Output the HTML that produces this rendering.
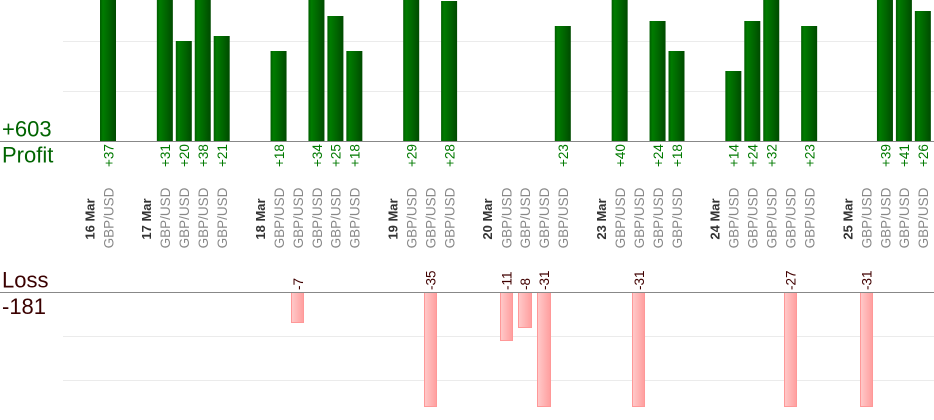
<!DOCTYPE html>
<html>
<head>
<meta charset="utf-8">
<style>
  html,body{margin:0;padding:0;background:#fff;}
  svg{display:block;}
  text{font-family:"Liberation Sans",Arial,sans-serif;}
</style>
</head>
<body>
<svg width="934" height="420" viewBox="0 0 934 420" xmlns="http://www.w3.org/2000/svg">
  <defs>
    <linearGradient id="g" x1="0" y1="0" x2="1" y2="0">
      <stop offset="0" stop-color="#005c00"/>
      <stop offset="0.18" stop-color="#007c00"/>
      <stop offset="0.6" stop-color="#006400"/>
      <stop offset="1" stop-color="#004a00"/>
    </linearGradient>
    <linearGradient id="r" x1="0" y1="0" x2="1" y2="0">
      <stop offset="0" stop-color="#ffcaca"/>
      <stop offset="1" stop-color="#ff9e9e"/>
    </linearGradient>
  </defs>

  <!-- grid lines -->
  <g stroke="#ebebeb" stroke-width="1">
    <line x1="63" y1="41.5" x2="934" y2="41.5"/>
    <line x1="63" y1="91.5" x2="934" y2="91.5"/>
    <line x1="63" y1="336.5" x2="934" y2="336.5"/>
    <line x1="63" y1="380.5" x2="934" y2="380.5"/>
  </g>

  <!-- profit bars (c-8.5, width 16) -->
  <g fill="url(#g)">
    <rect x="100" y="0" width="16" height="141"/>
    <rect x="156.85" y="0" width="16" height="141"/>
    <rect x="175.8" y="41" width="16" height="100"/>
    <rect x="194.75" y="0" width="16" height="141"/>
    <rect x="213.7" y="36" width="16" height="105"/>
    <rect x="270.55" y="51" width="16" height="90"/>
    <rect x="308.45" y="0" width="16" height="141"/>
    <rect x="327.4" y="16" width="16" height="125"/>
    <rect x="346.35" y="51" width="16" height="90"/>
    <rect x="403.2" y="0" width="16" height="141"/>
    <rect x="441.1" y="1" width="16" height="140"/>
    <rect x="554.8" y="26" width="16" height="115"/>
    <rect x="611.65" y="0" width="16" height="141"/>
    <rect x="649.55" y="21" width="16" height="120"/>
    <rect x="668.5" y="51" width="16" height="90"/>
    <rect x="725.35" y="71" width="16" height="70"/>
    <rect x="744.3" y="21" width="16" height="120"/>
    <rect x="763.25" y="0" width="16" height="141"/>
    <rect x="801.15" y="26" width="16" height="115"/>
    <rect x="876.95" y="0" width="16" height="141"/>
    <rect x="895.9" y="0" width="16" height="141"/>
    <rect x="914.85" y="11" width="16" height="130"/>
  </g>

  <!-- loss bars (c-6.5, width 13) -->
  <g fill="url(#r)" stroke="#ff9898" stroke-width="1">
    <rect x="291.5" y="292.5" width="12" height="30"/>
    <rect x="424.5" y="292.5" width="12" height="114"/>
    <rect x="500.5" y="292.5" width="12" height="48"/>
    <rect x="518.5" y="292.5" width="13" height="35"/>
    <rect x="537.5" y="292.5" width="13" height="114"/>
    <rect x="632.5" y="292.5" width="12" height="114"/>
    <rect x="784.5" y="292.5" width="12" height="114"/>
    <rect x="860.5" y="292.5" width="12" height="114"/>
  </g>

  <!-- baselines -->
  <line x1="0" y1="141.5" x2="934" y2="141.5" stroke="#888" stroke-width="1"/>
  <line x1="0" y1="292.5" x2="934" y2="292.5" stroke="#888" stroke-width="1"/>

  <!-- left labels -->
  <text x="2" y="136.5" font-size="22" fill="#006400">+603</text>
  <text x="2" y="162.3" font-size="22" fill="#006400">Profit</text>
  <text x="2" y="287.5" font-size="22" fill="#3a0000">Loss</text>
  <text x="2" y="314" font-size="22" fill="#3a0000">-181</text>

  <!-- profit value labels -->
  <g font-size="13.5" fill="#007a00" text-anchor="start">
    <text transform="translate(113.3,167) rotate(-90)">+37</text>
    <text transform="translate(170.15,167) rotate(-90)">+31</text>
    <text transform="translate(189.1,167) rotate(-90)">+20</text>
    <text transform="translate(208.05,167) rotate(-90)">+38</text>
    <text transform="translate(227,167) rotate(-90)">+21</text>
    <text transform="translate(283.85,167) rotate(-90)">+18</text>
    <text transform="translate(321.75,167) rotate(-90)">+34</text>
    <text transform="translate(340.7,167) rotate(-90)">+25</text>
    <text transform="translate(359.65,167) rotate(-90)">+18</text>
    <text transform="translate(416.5,167) rotate(-90)">+29</text>
    <text transform="translate(454.4,167) rotate(-90)">+28</text>
    <text transform="translate(568.1,167) rotate(-90)">+23</text>
    <text transform="translate(624.95,167) rotate(-90)">+40</text>
    <text transform="translate(662.85,167) rotate(-90)">+24</text>
    <text transform="translate(681.8,167) rotate(-90)">+18</text>
    <text transform="translate(738.65,167) rotate(-90)">+14</text>
    <text transform="translate(757.6,167) rotate(-90)">+24</text>
    <text transform="translate(776.55,167) rotate(-90)">+32</text>
    <text transform="translate(814.45,167) rotate(-90)">+23</text>
    <text transform="translate(890.25,167) rotate(-90)">+39</text>
    <text transform="translate(909.2,167) rotate(-90)">+41</text>
    <text transform="translate(928.15,167) rotate(-90)">+26</text>
  </g>

  <!-- date labels -->
  <g font-size="13" font-weight="bold" fill="#333" text-anchor="middle">
    <text transform="translate(94.3,219) rotate(-90)">16 Mar</text>
    <text transform="translate(151.1,219) rotate(-90)">17 Mar</text>
    <text transform="translate(264.8,219) rotate(-90)">18 Mar</text>
    <text transform="translate(397.5,219) rotate(-90)">19 Mar</text>
    <text transform="translate(492.2,219) rotate(-90)">20 Mar</text>
    <text transform="translate(605.9,219) rotate(-90)">23 Mar</text>
    <text transform="translate(719.6,219) rotate(-90)">24 Mar</text>
    <text transform="translate(852.3,219) rotate(-90)">25 Mar</text>
  </g>

  <!-- instrument labels -->
  <g font-size="13.5" fill="#888" text-anchor="middle">
    <text transform="translate(113.3,218) rotate(-90)">GBP/USD</text>
    <text transform="translate(170.15,218) rotate(-90)">GBP/USD</text>
    <text transform="translate(189.1,218) rotate(-90)">GBP/USD</text>
    <text transform="translate(208.05,218) rotate(-90)">GBP/USD</text>
    <text transform="translate(227,218) rotate(-90)">GBP/USD</text>
    <text transform="translate(283.85,218) rotate(-90)">GBP/USD</text>
    <text transform="translate(302.8,218) rotate(-90)">GBP/USD</text>
    <text transform="translate(321.75,218) rotate(-90)">GBP/USD</text>
    <text transform="translate(340.7,218) rotate(-90)">GBP/USD</text>
    <text transform="translate(359.65,218) rotate(-90)">GBP/USD</text>
    <text transform="translate(416.5,218) rotate(-90)">GBP/USD</text>
    <text transform="translate(435.45,218) rotate(-90)">GBP/USD</text>
    <text transform="translate(454.4,218) rotate(-90)">GBP/USD</text>
    <text transform="translate(511.25,218) rotate(-90)">GBP/USD</text>
    <text transform="translate(530.2,218) rotate(-90)">GBP/USD</text>
    <text transform="translate(549.15,218) rotate(-90)">GBP/USD</text>
    <text transform="translate(568.1,218) rotate(-90)">GBP/USD</text>
    <text transform="translate(624.95,218) rotate(-90)">GBP/USD</text>
    <text transform="translate(643.9,218) rotate(-90)">GBP/USD</text>
    <text transform="translate(662.85,218) rotate(-90)">GBP/USD</text>
    <text transform="translate(681.8,218) rotate(-90)">GBP/USD</text>
    <text transform="translate(738.65,218) rotate(-90)">GBP/USD</text>
    <text transform="translate(757.6,218) rotate(-90)">GBP/USD</text>
    <text transform="translate(776.55,218) rotate(-90)">GBP/USD</text>
    <text transform="translate(795.5,218) rotate(-90)">GBP/USD</text>
    <text transform="translate(814.45,218) rotate(-90)">GBP/USD</text>
    <text transform="translate(871.3,218) rotate(-90)">GBP/USD</text>
    <text transform="translate(890.25,218) rotate(-90)">GBP/USD</text>
    <text transform="translate(909.2,218) rotate(-90)">GBP/USD</text>
    <text transform="translate(928.15,218) rotate(-90)">GBP/USD</text>
  </g>

  <!-- loss value labels -->
  <g font-size="13.5" fill="#400000" text-anchor="start">
    <text transform="translate(302.8,290) rotate(-90)">-7</text>
    <text transform="translate(435.45,290) rotate(-90)">-35</text>
    <text transform="translate(511.25,290) rotate(-90)">-11</text>
    <text transform="translate(530.2,290) rotate(-90)">-8</text>
    <text transform="translate(549.15,290) rotate(-90)">-31</text>
    <text transform="translate(643.9,290) rotate(-90)">-31</text>
    <text transform="translate(795.5,290) rotate(-90)">-27</text>
    <text transform="translate(871.3,290) rotate(-90)">-31</text>
  </g>
</svg>
</body>
</html>
